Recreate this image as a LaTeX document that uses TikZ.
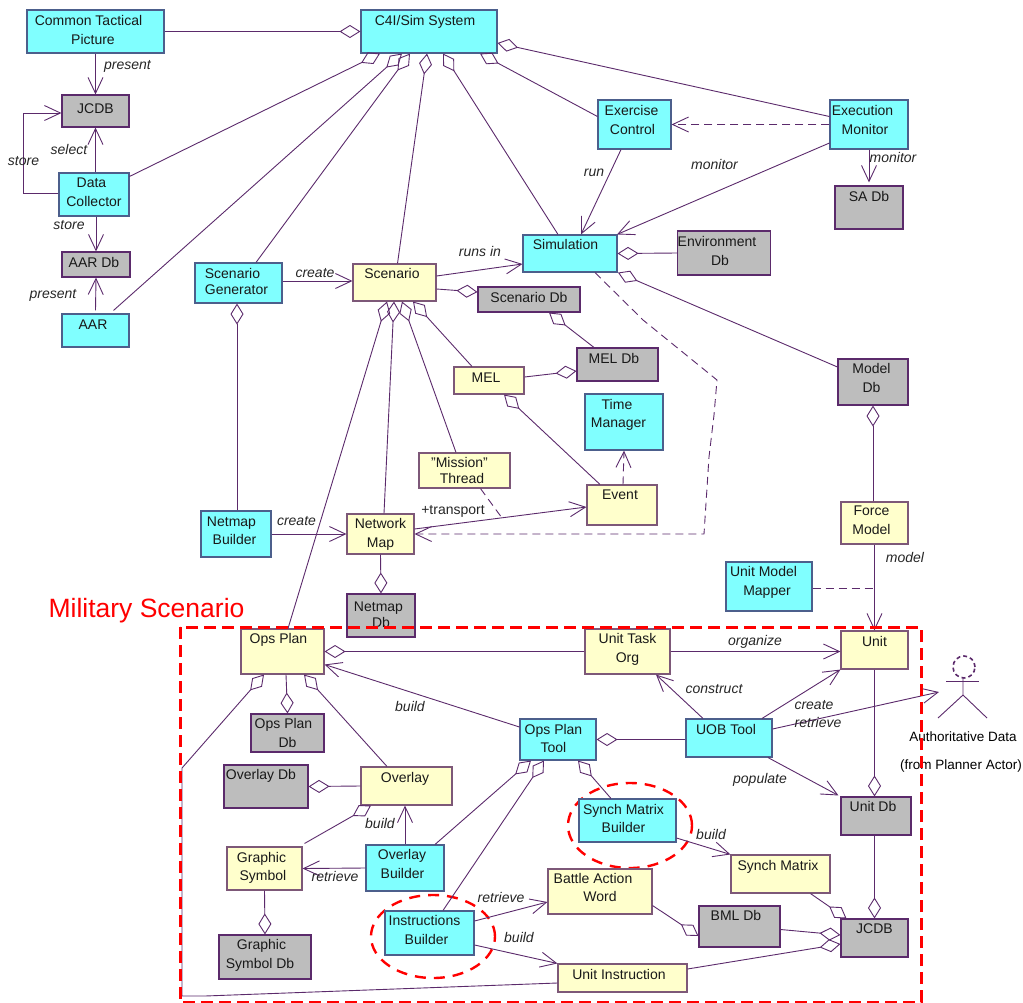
\documentclass[tikz,border=0pt]{standalone}
\usepackage{fontspec}
\setmainfont{Liberation Sans}
\usetikzlibrary{arrows.meta,shapes.geometric}
\definecolor{umlline}{HTML}{5B2A6B}
\definecolor{cyanfill}{HTML}{80FFFF}
\definecolor{cyanedge}{HTML}{4C5F8C}
\definecolor{yellowfill}{HTML}{FFFFCC}
\definecolor{yellowedge}{HTML}{7D5878}
\definecolor{greyfill}{HTML}{BDBDBD}
\newcommand{\lpad}[1]{\hspace*{#1pt}}
\tikzset{
  boxsize/.code n args={3}{\pgfmathsetlengthmacro\boxdepth{#2pt-#3pt}
    \tikzset{minimum width=#1pt,minimum height=#2pt,text height=#3pt,text depth=\boxdepth}},
  umlbox/.style={draw,line width=1.1pt,inner sep=0pt,align=center,text=black!90,
    font=\fontsize{14}{19}\selectfont},
  simbox/.style={umlbox,fill=cyanfill,draw=cyanedge},
  objbox/.style={umlbox,fill=yellowfill,draw=yellowedge},
  dbbox/.style={umlbox,fill=greyfill,draw=umlline},
  lbl/.style={inner sep=0pt,text height=10pt,text depth=3pt,text=black!85,
    font=\fontsize{14}{19}\selectfont\itshape},
  ringnode/.style={ellipse,draw=red,dash pattern=on 11pt off 8pt,line width=2.4pt,inner sep=0pt},
  line/.style={umlline,line width=.9pt},
  agg/.style={line,-{Diamond[open,length=21pt,width=13pt]}},
  nav/.style={line,-{Straight Barb[length=16pt,width=15pt]}},
  dep/.style={nav,dash pattern=on 8pt off 5pt},
}

\begin{document}
\begin{tikzpicture}[x=1pt,y=-1pt]
  \useasboundingbox (0,0) rectangle (1023,1002);

  \node[ringnode,minimum width=124pt,minimum height=85pt] (synchring) at (630,825.5) {};
  \node[ringnode,minimum width=124pt,minimum height=83pt] (instrring) at (433,936.5) {};

  \node[simbox,boxsize={137}{43}{34}] (ctp) at (95.5,31.5) {Common Tactical\lpad{14}\\Picture\lpad{5}};
  \node[simbox,boxsize={136}{43}{15}] (c4i) at (429,31.5) {C4I/Sim System\lpad{8}};
  \node[dbbox,boxsize={67}{32}{18}] (jcdb) at (95.5,111) {JCDB};
  \node[simbox,boxsize={70}{43}{33}] (dc) at (94,194.5) {Data\lpad{5}\\Collector};
  \node[dbbox,boxsize={68}{25}{15}] (aardb) at (96,264.5) {AAR Db\lpad{4}};
  \node[simbox,boxsize={67}{33}{15}] (aar) at (95.5,330.5) {AAR\lpad{5}};
  \node[simbox,boxsize={87}{40}{31}] (sg) at (238.5,283) {Scenario\lpad{12}\\[-3pt]Generator\lpad{4}};
  \node[objbox,boxsize={83}{37}{14}] (scen) at (394.5,282.5) {Scenario\lpad{5}};
  \node[dbbox,boxsize={102}{25}{15}] (scdb) at (529,299.5) {Scenario Db};
  \node[simbox,boxsize={94}{37}{14}] (sim) at (570,253.5) {Simulation\lpad{9}};
  \node[dbbox,boxsize={92}{44}{34}] (envdb) at (724,253) {Environment\lpad{14}\\Db\lpad{8}};
  \node[simbox,boxsize={73}{49}{34}] (exc) at (634.5,124.5) {Exercise\lpad{6}\\Control\lpad{4}};
  \node[simbox,boxsize={78}{49}{34}] (exm) at (869,124.5) {Execution\lpad{13}\\Monitor\lpad{8}};
  \node[dbbox,boxsize={68}{43}{15}] (sadb) at (869,207.5) {SA Db};
  \node[dbbox,boxsize={81}{33}{15}] (meldb) at (617.5,364.5) {MEL Db\lpad{7}};
  \node[objbox,boxsize={70}{27}{15}] (mel) at (489,380.5) {MEL\lpad{6}};
  \node[simbox,boxsize={78}{56}{33}] (tm) at (624,422) {Time\lpad{14}\\[-1pt]Manager\lpad{11}};
  \node[objbox,boxsize={91}{35}{30}] (mt) at (464.5,470.5) {"Mission"\lpad{10}\\[-3pt]Thread\lpad{5}};
  \node[objbox,boxsize={70}{40}{14}] (event) at (622,505) {Event\lpad{4}};
  \node[simbox,boxsize={70}{46}{33}] (nb) at (236,534) {Netmap\lpad{9}\\[-1pt]Builder\lpad{3}};
  \node[objbox,boxsize={67}{40}{33}] (nm) at (380.5,534) {Network\\Map};
  \node[dbbox,boxsize={68}{43}{33}] (nmdb) at (381,615.5) {Netmap\lpad{5}\\[-3pt]Db};
  \node[objbox,boxsize={83}{45}{14}] (opsplan) at (282.5,651.5) {Ops Plan\lpad{8}};
  \node[objbox,boxsize={85}{45}{33}] (uto) at (627.5,651.5) {Unit Task\\Org};
  \node[dbbox,boxsize={73}{38}{33}] (opdb) at (287.5,733) {Ops Plan\lpad{8}\\Db};
  \node[dbbox,boxsize={84}{43}{14}] (ovdb) at (266,786.5) {Overlay Db\lpad{10}};
  \node[objbox,boxsize={91}{38}{15}] (ov) at (406.5,786) {Overlay\lpad{3}};
  \node[objbox,boxsize={75}{43}{33}] (gs) at (264.5,868.5) {Graphic\lpad{6}\\[-1pt]Symbol\lpad{3}};
  \node[dbbox,boxsize={92}{44}{33}] (gsdb) at (265,957) {Graphic\lpad{7}\\Symbol Db\lpad{10}};
  \node[simbox,boxsize={78}{46}{33}] (ovb) at (405,868) {Overlay\lpad{6}\\Builder\lpad{5}};
  \node[simbox,boxsize={76}{41}{33}] (opt) at (558,739.5) {Ops Plan\lpad{9}\\[-1pt]Tool\lpad{9}};
  \node[simbox,boxsize={89}{44}{33}] (ib) at (429.5,933) {Instructions\lpad{10}\\Builder\lpad{6}};
  \node[objbox,boxsize={104}{45}{32}] (baw) at (600,891.5) {Battle Action\lpad{14}\\[-1pt]Word};
  \node[objbox,boxsize={129}{28}{15}] (ui) at (622.5,978) {Unit Instruction\lpad{7}};
  \node[simbox,boxsize={86}{49}{33}] (umm) at (769,586.5) {Unit Model\lpad{11}\\Mapper\lpad{4}};
  \node[objbox,boxsize={67}{38}{15}] (unit) at (874.5,650) {Unit};
  \node[objbox,boxsize={67}{42}{32}] (fm) at (874.5,523) {Force\lpad{6}\\Model\lpad{6}};
  \node[simbox,boxsize={86}{38}{15}] (uob) at (729,738) {UOB Tool\lpad{6}};
  \node[simbox,boxsize={97}{43}{33}] (smb) at (627.5,820.5) {Synch Matrix\lpad{8}\\[-1pt]Builder\lpad{8}};
  \node[objbox,boxsize={99}{38}{15}] (sm) at (780.5,874) {Synch Matrix\lpad{5}};
  \node[dbbox,boxsize={70}{38}{14}] (udb) at (876,816) {Unit Db\lpad{6}};
  \node[dbbox,boxsize={67}{38}{14}] (jcdb2) at (874.5,938) {JCDB};
  \node[dbbox,boxsize={81}{41}{14}] (bml) at (739.5,926.5) {BML Db\lpad{7}};
  \node[dbbox,boxsize={70}{46}{33}] (mdb) at (873,382) {Model\lpad{3}\\Db\lpad{3}};

  \node[circle,draw=umlline,line width=1.6pt,dash pattern=on 4pt off 3pt,minimum size=22pt,inner sep=0pt] (actorhead) at (964,667) {};
  \coordinate (actorneck) at (963,678);
  \coordinate (actorhip) at (963,695);
  \coordinate (actorhand) at (939,692);
  \draw[line] (actorneck) -- (actorhip) -- (938,718);
  \draw[line] (actorhip) -- (987,718);
  \draw[line] (946,681) -- (979,681);
  \node[font=\fontsize{13.5}{19}\selectfont,inner sep=0pt] (actorname) at (963,737) {Authoritative Data};
  \node[font=\fontsize{13.5}{19}\selectfont,inner sep=0pt] (actorpkg) at (961,766) {(from Planner Actor)};

  \path[agg]
  (ctp.east) edge (c4i.west)
  ([yshift=-4pt]dc.north east) edge ([xshift=-49pt]c4i.south)
  ([xshift=18pt,yshift=3pt]aar.north) edge ([xshift=-27pt]c4i.south)
  ([xshift=17.5pt]sg.north) edge ([xshift=-19pt]c4i.south)
  ([xshift=3pt]scen.north) edge ([xshift=-2pt]c4i.south)
  ([xshift=-12pt]sim.north) edge ([xshift=14pt]c4i.south)
  ([yshift=8pt]exc.west) edge ([xshift=51pt]c4i.south)
  ([yshift=8pt]exm.west) edge ([yshift=-11.5pt]c4i.east)
  (envdb.west) edge (sim.east)
  ([yshift=15pt]mdb.west) edge ([xshift=48pt]sim.south)
  ([yshift=-6.5pt]scen.east) edge ([yshift=7.5pt]scdb.west)
  ([yshift=3.5pt]mel.east) edge ([yshift=-6.5pt]meldb.west)
  ([xshift=-23.5pt]meldb.north) edge ([xshift=20pt]scdb.south)
  ([xshift=5.5pt]opsplan.north) edge ([xshift=-7.5pt]scen.south)
  ([xshift=3.5pt]nm.north) edge ([xshift=-.5pt]scen.south)
  ([xshift=-8.5pt]mt.north) edge ([xshift=7.5pt]scen.south)
  ([xshift=-17pt]mel.north) edge ([xshift=18.5pt]scen.south)
  ([xshift=1pt]nb.north) edge ([xshift=-1.5pt]sg.south)
  ([xshift=-22pt]event.north) edge ([xshift=15pt]mel.south)
  (nm.south) edge (nmdb.north)
  (uto.west) edge (opsplan.east)
  ([xshift=3.5pt]opsplan.south) edge (opdb.north)
  ([xshift=-19.5pt]ov.north) edge ([xshift=21.5pt]opsplan.south)
  (ov.west) edge (ovdb.east)
  ([xshift=2pt,yshift=3pt]gs.north east) edge ([xshift=-35.5pt]ov.south)
  (gs.south) edge (gsdb.north)
  ([xshift=30pt]ovb.north) edge ([xshift=-27pt]opt.south)
  ([xshift=13.5pt]ib.north) edge ([xshift=-14pt]opt.south)
  ([xshift=-16.5pt]smb.north) edge ([xshift=20pt]opt.south)
  ([yshift=-1.5pt]uob.west) edge (opt.east)
  ([yshift=-14pt]baw.east) edge ([yshift=-9.5pt]bml.west)
  ([xshift=30pt]sm.south) edge ([xshift=-28pt]jcdb2.north)
  ([yshift=-3pt]bml.east) edge ([yshift=3pt]jcdb2.west)
  ([yshift=9pt]ui.east) edge ([yshift=-6pt]jcdb2.west)
  (unit.south) edge ([xshift=-1.5pt]udb.north)
  ([xshift=-1.5pt]udb.south) edge (jcdb2.north)
  ([xshift=-1.5pt]fm.north) edge (mdb.south)
  ;
  \draw[agg] ([yshift=-5pt]ui.west) -- (205,996) -- (182,996) -- (182,768) -- ([xshift=-18.5pt]opsplan.south);

  \path[nav]
  (ctp.south) edge (jcdb.north)
  ([xshift=1.5pt]dc.north) edge (jcdb.south)
  ([xshift=2pt]dc.south) edge (aardb.north)
  ([yshift=3pt]aar.north) edge (aardb.south)
  ([yshift=2pt]sg.east) edge ([yshift=1.5pt]scen.west)
  ([yshift=6.5pt]scen.east) edge ([yshift=-10.5pt]sim.west)
  ([xshift=-13.5pt]exc.south) edge ([xshift=11pt]sim.north)
  ([yshift=-18.5pt]exm.west) edge ([xshift=47pt]sim.north)
  (exm.south) edge ([yshift=3pt]sadb.north)
  (nb.east) edge (nm.west)
  ([yshift=5pt]nm.east) edge ([yshift=-2pt]event.west)
  (uto.east) edge ([yshift=-1.5pt]unit.west)
  (fm.south) edge (unit.north)
  ([xshift=-26pt]uob.north) edge ([xshift=28.5pt]uto.south)
  ([xshift=33pt]uob.north) edge (unit.south west)
  ([yshift=9pt]uob.east) edge (actorhand)
  ([xshift=39pt]uob.south) edge ([xshift=-2pt,yshift=1pt]udb.north west)
  ([yshift=-17.5pt]smb.east) edge (sm.north west)
  ([yshift=12pt]ib.east) edge ([yshift=-10.5pt]baw.west)
  ([yshift=-12pt]ib.east) edge (ui.north west)
  (ovb.north) edge ([xshift=-1.5pt]ov.south)
  (ovb.west) edge (gs.east)
  ([yshift=12.5pt]opt.west) edge ([yshift=-13pt]opsplan.east)
  ;
  \draw[nav] ([yshift=1.5pt]dc.west) -- ++(-35,0) |- ([yshift=-2pt]jcdb.west);

  \coordinate (transportmid) at (502,518);
  \path[dep]
  (exm.west) edge (exc.east)
  ([xshift=1pt]event.north) edge (tm.south)
  ([yshift=-1.5pt]umm.east) edge[-] ([yshift=-1.5pt]umm.east -| fm.south)
  ([xshift=16pt]mt.south) edge[-] (transportmid)
  ;
  \draw[dep] ([xshift=25pt]sim.south) -- (643,320) -- (717,380) -- (714,415) -- (709,457) -- (704,534) -- (nm.east);

  \node[lbl] (lpresenta) at (127.5,65.5) {present};
  \node[lbl] (lselect) at (69,151) {select};
  \node[lbl] (lstorea) at (23.5,161.5) {store};
  \node[lbl] (lstoreb) at (69,225.5) {store};
  \node[lbl] (lpresentb) at (53,294.5) {present};
  \node[lbl] (lcreatea) at (315,273.5) {create};
  \node[lbl] (lruns) at (480,252.5) {runs in};
  \node[lbl] (lrun) at (594,172.5) {run};
  \node[lbl] (lmonitora) at (714.5,166) {monitor};
  \node[lbl] (lmonitorb) at (893,158.5) {monitor};
  \node[lbl] (lcreateb) at (296.5,521.5) {create};
  \node[lbl,font=\fontsize{14}{19}\selectfont] (ltransport) at (453,511) {+transport};
  \node[lbl] (lbuilda) at (410,707.5) {build};
  \node[lbl] (lbuildb) at (380,825) {build};
  \node[lbl] (lretrievea) at (335,878) {retrieve};
  \node[lbl] (lretrieveb) at (501,899) {retrieve};
  \node[lbl] (lbuildc) at (519,939) {build};
  \node[lbl] (lorganize) at (755,641.5) {organize};
  \node[lbl] (lconstruct) at (714,689.5) {construct};
  \node[lbl] (lcreatec) at (814,705.5) {create};
  \node[lbl] (lretrievec) at (818,723.5) {retrieve};
  \node[lbl] (lpopulate) at (760,779.5) {populate};
  \node[lbl] (lmodel) at (905,558.5) {model};
  \node[lbl] (lbuildd) at (711,835.5) {build};

  \node[text=red,inner sep=0pt,font=\fontsize{26.5}{30}\selectfont] (milname) at (146.5,611) {Military Scenario};
  \draw[red,line width=3pt,dash pattern=on 12pt off 6pt] (180,627) rectangle (921,1002);
\end{tikzpicture}
\end{document}
